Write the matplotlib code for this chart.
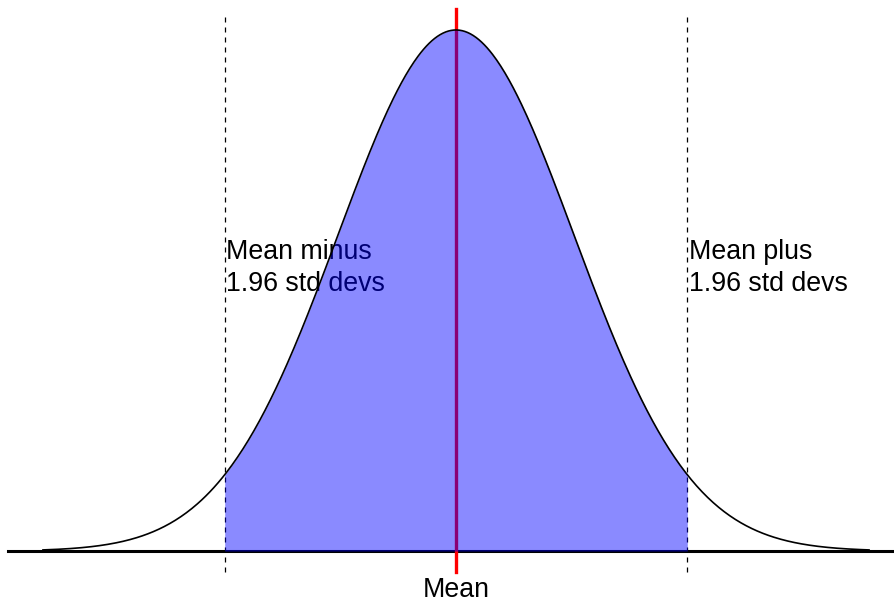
import numpy as np
import matplotlib
matplotlib.use('Agg')
import matplotlib.pyplot as plt

plt.rcParams['font.family'] = ['Liberation Sans', 'DejaVu Sans']

# standard normal with a 95% two-sided interval
mean = 0.0
sd = 1.0
z_crit = 1.96
curve_range = (-3.5, 3.5)
labels = ['Mean minus\n1.96 std devs', 'Mean plus\n1.96 std devs', 'Mean']


def pdf(x):
    return np.exp(-0.5 * ((x - mean) / sd) ** 2) / (sd * np.sqrt(2 * np.pi))


fig = plt.figure(figsize=(8.95, 6.02), dpi=100)
ax = fig.add_axes([0, 0, 1, 1])
ax.set_xlim(-3.864, 3.720)
ax.set_ylim(-0.039, 0.4219)
ax.axis('off')

# baseline
ax.plot([-3.8, 3.8], [0, 0], color='black', lw=2.2, zorder=1)

# labels sit under the shaded area
ax.text(mean - z_crit * sd + 0.015, 0.2389, labels[0], fontsize=19.3,
        ha='left', va='top', linespacing=1.3, zorder=2)
ax.text(mean + z_crit * sd + 0.015, 0.2389, labels[1], fontsize=19.3,
        ha='left', va='top', linespacing=1.3, zorder=2)
ax.text(mean, -0.0195, labels[2], fontsize=19.3, ha='center', va='top', zorder=2)

# mean and interval markers
ax.plot([mean, mean], [-0.016, 0.415], color='red', lw=2.4, zorder=3)
for z in (-z_crit, z_crit):
    ax.plot([mean + z * sd] * 2, [-0.016, 0.4127], color='black', lw=0.9,
            ls=(0, (4, 4)), zorder=3)

# shaded 95% region
xf = np.linspace(mean - z_crit * sd, mean + z_crit * sd, 400)
ax.fill_between(xf, 0, pdf(xf), color='blue', alpha=0.46, lw=0, zorder=4)

# density curve
xs = np.linspace(curve_range[0], curve_range[1], 600)
ax.plot(xs, pdf(xs), color='black', lw=1.2, zorder=5)

fig.savefig('out.png', dpi=100)
